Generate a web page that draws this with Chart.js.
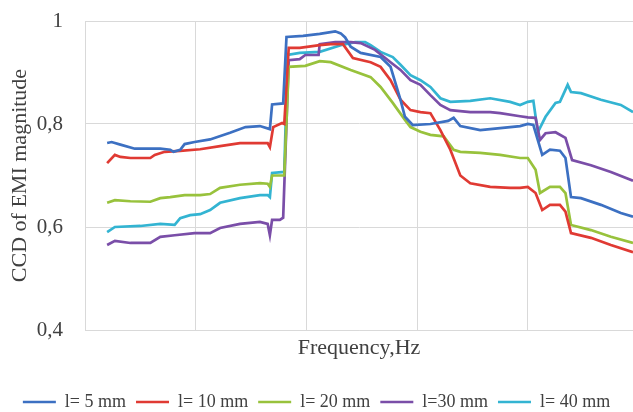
<!DOCTYPE html>
<html lang="en">
<head>
    <meta charset="UTF-8">
    <title>CCD of EMI magnitude</title>
    <style>
      body {
        margin: 0;
        padding: 0;
        background-color: #fff;
      }
      #wrap {
        width: 633px;
        height: 412px;
      }
    </style>
    <script src="https://cdn.jsdelivr.net/npm/chart.js"></script>
</head>
<body>
  <div id="wrap"><canvas id="chartCanvas"></canvas></div>

  <script>
    // frequency axis has no tick labels in the source, x is in grid units (0..4.95)
    const seriesNames = ['l= 5 mm', 'l= 10 mm', 'l= 20 mm', 'l=30 mm', 'l= 40 mm'];
    const yTicks = [0.4, 0.6, 0.8, 1];

    const l5 = [[0.2,0.763],[0.24,0.765],[0.32,0.76],[0.45,0.752],[0.68,0.752],[0.77,0.75],[0.8,0.746],[0.86,0.75],
      [0.9,0.761],[0.99,0.765],[1.13,0.77],[1.31,0.783],[1.45,0.794],[1.58,0.796],[1.67,0.79],[1.69,0.838],[1.79,0.84],
      [1.82,0.969],[1.97,0.971],[2.12,0.975],[2.26,0.98],[2.31,0.976],[2.35,0.968],[2.4,0.95],[2.49,0.938],[2.67,0.93],
      [2.76,0.911],[2.85,0.847],[2.89,0.814],[2.96,0.798],[3.12,0.8],[3.28,0.806],[3.33,0.812],[3.39,0.796],[3.57,0.788],
      [3.75,0.792],[3.93,0.796],[4.0,0.8],[4.05,0.798],[4.13,0.74],[4.2,0.75],[4.29,0.748],[4.34,0.734],[4.39,0.658],
      [4.48,0.656],[4.66,0.643],[4.84,0.627],[4.95,0.62]];

    const l10 = [[0.2,0.724],[0.27,0.74],[0.32,0.736],[0.41,0.734],[0.59,0.734],[0.63,0.74],[0.72,0.746],[0.86,0.748],
      [1.04,0.751],[1.22,0.757],[1.4,0.763],[1.58,0.763],[1.65,0.763],[1.67,0.755],[1.7,0.794],[1.78,0.802],[1.8,0.8],
      [1.84,0.948],[1.94,0.948],[2.12,0.953],[2.22,0.955],[2.33,0.955],[2.42,0.928],[2.58,0.92],[2.67,0.911],[2.76,0.885],
      [2.85,0.847],[2.94,0.827],[3.03,0.823],[3.12,0.821],[3.21,0.788],[3.3,0.75],[3.39,0.7],[3.48,0.685],[3.66,0.678],
      [3.84,0.676],[3.93,0.676],[4.0,0.678],[4.07,0.666],[4.13,0.633],[4.2,0.643],[4.29,0.643],[4.34,0.63],[4.39,0.588],
      [4.57,0.579],[4.75,0.565],[4.95,0.551]];

    const l20 = [[0.2,0.647],[0.27,0.652],[0.41,0.65],[0.59,0.649],[0.68,0.656],[0.77,0.658],[0.9,0.662],[1.04,0.662],
      [1.13,0.664],[1.22,0.676],[1.4,0.682],[1.58,0.685],[1.65,0.684],[1.67,0.678],[1.69,0.7],[1.8,0.7],[1.84,0.911],
      [1.99,0.913],[2.12,0.922],[2.22,0.92],[2.4,0.905],[2.58,0.891],[2.67,0.872],[2.78,0.841],[2.89,0.808],[2.94,0.794],
      [3.03,0.785],[3.12,0.779],[3.24,0.776],[3.33,0.75],[3.39,0.746],[3.57,0.744],[3.75,0.74],[3.93,0.734],[4.0,0.734],
      [4.07,0.711],[4.11,0.666],[4.2,0.678],[4.29,0.678],[4.34,0.666],[4.39,0.604],[4.57,0.594],[4.75,0.581],[4.95,0.569]];

    const l30 = [[0.2,0.565],[0.27,0.573],[0.41,0.569],[0.59,0.569],[0.68,0.581],[0.81,0.584],[0.99,0.588],[1.13,0.588],
      [1.22,0.598],[1.4,0.606],[1.58,0.61],[1.65,0.606],[1.67,0.584],[1.69,0.614],[1.76,0.614],[1.79,0.618],[1.84,0.924],
      [1.94,0.926],[1.99,0.934],[2.11,0.934],[2.12,0.955],[2.26,0.959],[2.4,0.959],[2.49,0.957],[2.62,0.944],[2.76,0.92],
      [2.85,0.905],[2.94,0.885],[3.03,0.876],[3.12,0.856],[3.21,0.837],[3.3,0.827],[3.48,0.823],[3.66,0.823],[3.75,0.821],
      [3.93,0.815],[4.0,0.813],[4.07,0.812],[4.11,0.769],[4.16,0.782],[4.25,0.784],[4.34,0.773],[4.4,0.73],[4.57,0.72],
      [4.75,0.707],[4.95,0.69]];

    const l40 = [[0.2,0.59],[0.27,0.6],[0.5,0.602],[0.68,0.606],[0.81,0.604],[0.86,0.617],[0.95,0.623],[1.04,0.625],
      [1.13,0.633],[1.22,0.647],[1.4,0.656],[1.58,0.662],[1.65,0.662],[1.67,0.658],[1.69,0.705],[1.8,0.707],[1.83,0.934],
      [1.94,0.938],[2.12,0.94],[2.31,0.953],[2.44,0.959],[2.53,0.959],[2.58,0.953],[2.67,0.94],[2.78,0.93],[2.85,0.915],
      [2.94,0.895],[3.03,0.885],[3.12,0.872],[3.21,0.85],[3.3,0.843],[3.48,0.845],[3.66,0.85],[3.84,0.843],[3.93,0.837],
      [4.0,0.843],[4.05,0.845],[4.09,0.784],[4.16,0.814],[4.25,0.841],[4.29,0.843],[4.36,0.876],[4.39,0.862],[4.48,0.86],
      [4.66,0.847],[4.84,0.837],[4.95,0.823]];

    const allSeries = [l5, l10, l20, l30, l40];
    const colors = ['#3c70c2', '#e03a33', '#98c23c', '#7a4ea8', '#33b4d2'];

    const serif = "'Liberation Serif', 'Times New Roman', serif";
    const gridColor = '#d9d9d9';

    const datasets = allSeries.map((s, i) => ({
      label: seriesNames[i],
      data: s.map(p => ({ x: p[0], y: p[1] })),
      borderColor: colors[i],
      backgroundColor: colors[i],
      borderWidth: 2.7,
      pointRadius: 0,
      tension: 0
    }));

    new Chart(document.getElementById('chartCanvas'), {
      type: 'line',
      data: { datasets: datasets },
      options: {
        responsive: true,
        maintainAspectRatio: false,
        animation: false,
        layout: { padding: { top: 21, left: 0, right: 0, bottom: -9 } },
        plugins: {
          tooltip: { enabled: false },
          legend: {
            position: 'bottom',
            labels: {
              usePointStyle: true,
              pointStyle: 'line',
              pointStyleWidth: 33,
              padding: 10,
              color: '#404040',
              font: { family: serif, size: 18 }
            }
          }
        },
        scales: {
          x: {
            type: 'linear',
            min: 0,
            max: 4.95,
            ticks: { display: false, stepSize: 1 },
            afterBuildTicks: scale => {
              scale.ticks = scale.ticks.filter(t => Number.isInteger(t.value));
            },
            afterFit: scale => { scale.height = 53; },
            grid: { color: gridColor, drawTicks: false },
            border: { color: gridColor },
            title: {
              display: true,
              text: 'Frequency,Hz',
              color: '#404040',
              font: { family: serif, size: 22 },
              padding: { top: 5, bottom: 22 }
            }
          },
          y: {
            min: 0.4,
            max: 1,
            afterBuildTicks: scale => {
              scale.ticks = yTicks.map(v => ({ value: v }));
            },
            afterFit: scale => {
              scale.width = 85;
              // tick padding is only meant to push the labels left
              scale.paddingTop = 0;
              scale.paddingBottom = 0;
            },
            ticks: {
              padding: 22,
              color: '#404040',
              font: { family: serif, size: 21 },
              callback: v => v === 1 ? '1' : v.toFixed(1).replace('.', ',')
            },
            grid: { color: gridColor, drawTicks: false },
            border: { color: gridColor },
            title: {
              display: true,
              text: 'CCD of EMI magnitude',
              color: '#404040',
              font: { family: serif, size: 22 },
              padding: { top: 7, bottom: 0 }
            }
          }
        }
      }
    });
  </script>
</body>
</html>
